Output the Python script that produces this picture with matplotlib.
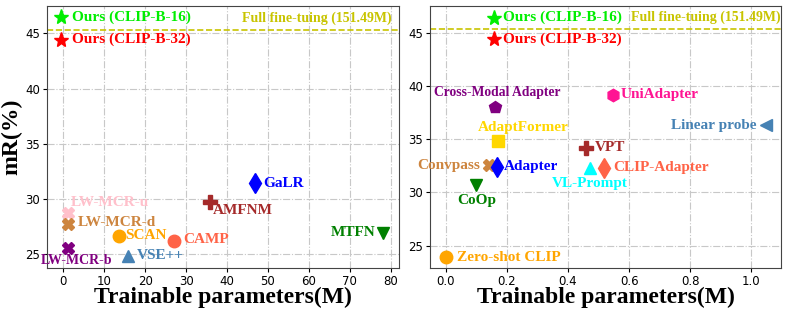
import matplotlib
matplotlib.use("Agg")
import matplotlib.pyplot as plt

# left panel: remote sensing retrieval methods (trainable params in M, mR in %)
left_names = ["Ours (CLIP-B-16)", "Ours (CLIP-B-32)", "GaLR", "AMFNM", "LW-MCR-u",
              "LW-MCR-d", "LW-MCR-b", "SCAN", "CAMP", "VSE++", "MTFN"]
left_x = [-0.5, -0.5, 46.9, 35.8, 1.1, 1.1, 1.1, 13.6, 27.1, 15.8, 78.2]
left_y = [46.45, 44.45, 31.4, 29.7, 28.7, 27.7, 25.5, 26.6, 26.2, 24.8, 26.9]

# right panel: parameter-efficient methods
right_names = ["Ours (CLIP-B-16)", "Ours (CLIP-B-32)", "Cross-Modal Adapter", "UniAdapter",
               "Linear probe", "AdaptFormer", "VPT", "Convpass", "Adapter", "VL-Prompt",
               "CLIP-Adapter", "CoOp", "Zero-shot CLIP"]
right_x = [0.157, 0.157, 0.161, 0.549, 1.048, 0.171, 0.459, 0.14, 0.169, 0.471, 0.518, 0.10, 0.0]
right_y = [46.4, 44.4, 38.05, 39.15, 36.3, 34.8, 34.2, 32.55, 32.4, 32.3, 32.3, 30.66, 23.9]

full_ft_y = 45.35
full_ft_label = "Full fine-tuing (151.49M)"

# styles: (marker, color, size, dx px, dy px, ha, fontsize)
left_style = [
    ("*", "#00ee00", 11, 11, 0, "left", 11),
    ("*", "red", 11, 11, 0, "left", 11),
    ("d", "blue", 10, 8, 0, "left", 11),
    ("P", "brown", 10, 3, -9, "left", 11),
    ("X", "pink", 9, 3, 11, "left", 11),
    ("X", "peru", 9, 10, 2, "left", 11),
    ("X", "purple", 9, -27, -12, "left", 10),
    ("o", "orange", 9, 6, 1, "left", 11),
    ("o", "tomato", 9, 9, 1, "left", 11),
    ("^", "steelblue", 9, 9, 0, "left", 11),
    ("v", "green", 9, -8, 0, "right", 11),
]
right_style = [
    ("*", "#00ee00", 11, 9, 0, "left", 11),
    ("*", "red", 11, 9, 0, "left", 11),
    ("p", "purple", 9, 2, 14, "center", 9.8),
    ("h", "deeppink", 9, 7, 0, "left", 11),
    ("<", "steelblue", 9, -9, 0, "right", 11),
    ("s", "gold", 9, 25, 14, "center", 11),
    ("P", "brown", 10, 9, 0, "left", 11),
    ("X", "peru", 9, -8, 0, "right", 11),
    ("d", "blue", 10, 6, 0, "left", 11),
    ("^", "cyan", 9, 0, -16, "center", 11),
    ("d", "tomato", 10, 9, 0, "left", 11),
    ("v", "green", 9, 0, -15, "center", 11),
    ("o", "orange", 9, 11, 0, "left", 11),
]

serif = ["Liberation Serif", "DejaVu Serif"]
ftcol = "#c8c400"

fig = plt.figure(figsize=(7.89, 3.11), dpi=100)
ax1 = fig.add_axes([0.0596, 0.138, 0.446, 0.843])
ax2 = fig.add_axes([0.545, 0.138, 0.445, 0.843])


def draw(ax, names, xs, ys, styles, ft_x):
    for n, x, y, st in zip(names, xs, ys, styles):
        m, c, ms, dx, dy, ha, fs = st
        ax.plot(x, y, marker=m, color=c, markersize=ms, linestyle="none", zorder=3)
        ax.annotate(n, (x, y), xytext=(dx, dy), textcoords="offset pixels",
                    ha=ha, va="center", color=c, fontsize=fs, fontweight="bold",
                    family=serif, annotation_clip=False)
    ax.axhline(full_ft_y, color=ftcol, linestyle="--", linewidth=1.2)
    ax.text(ft_x, 46.4, full_ft_label, ha="right", va="center", color=ftcol,
            fontsize=10, fontweight="bold", family=serif)
    ax.grid(True, linestyle="-.", color="#c8c8c8", linewidth=0.8)
    ax.set_axisbelow(True)
    ax.tick_params(labelsize=8.5, length=3, pad=2)
    for s in ax.spines.values():
        s.set_color("#444444")
    ax.set_xlabel("Trainable parameters(M)", fontsize=17, fontweight="bold",
                  family=serif, labelpad=-1)


draw(ax1, left_names, left_x, left_y, left_style, 80.3)
ax1.set_xlim(-4, 82)
ax1.set_ylim(23.7, 47.5)
ax1.set_xticks(range(0, 81, 10))
ax1.set_yticks([25, 30, 35, 40, 45])
ax1.set_ylabel("mR(%)", fontsize=17, fontweight="bold", family=serif, labelpad=2)

draw(ax2, right_names, right_x, right_y, right_style, 1.095)
ax2.set_xlim(-0.052, 1.098)
ax2.set_ylim(22.9, 47.5)
ax2.set_xticks([0.0, 0.2, 0.4, 0.6, 0.8, 1.0])
ax2.set_yticks([25, 30, 35, 40, 45])

fig.savefig("out.png", dpi=100)
